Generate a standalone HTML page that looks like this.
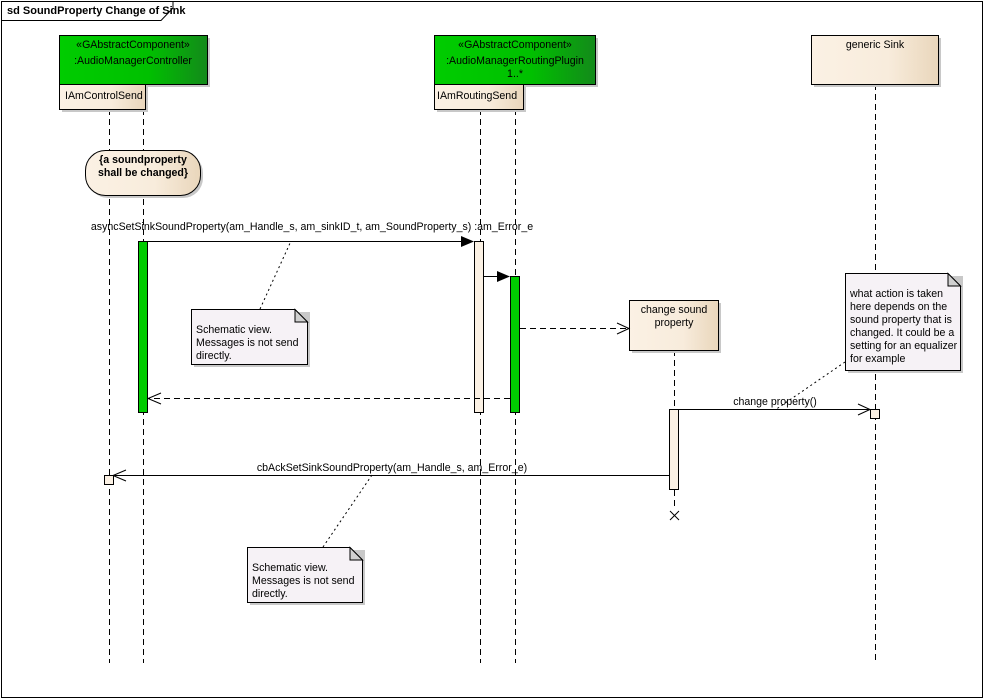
<!DOCTYPE html>
<html><head><meta charset="utf-8"><style>
html,body{margin:0;padding:0;background:#fff;}
svg{display:block;font-family:"Liberation Sans",sans-serif;}
text{font-size:10.6px;fill:#000;}
</style></head><body>
<svg width="985" height="699" viewBox="0 0 985 699" xmlns="http://www.w3.org/2000/svg">
<defs>
<linearGradient id="g" x1="0" x2="1"><stop offset="0" stop-color="#00cc00"/><stop offset="0.6" stop-color="#00c000"/><stop offset="1" stop-color="#138a1a"/></linearGradient>
<linearGradient id="b" x1="0" x2="1"><stop offset="0" stop-color="#fbf1e4"/><stop offset="0.6" stop-color="#f8ecdc"/><stop offset="1" stop-color="#e9d6bb"/></linearGradient>
</defs>
<rect x="1.5" y="1.5" width="981" height="696" fill="#fff" stroke="#000"/>
<path d="M1.5 20.5 H161 L173 8 V1.5" fill="none" stroke="#000"/>
<text x="7" y="14" font-weight="bold" style="font-size:11px">sd SoundProperty Change of Sink</text>

<g stroke="#000" stroke-dasharray="6,4" fill="none">
<line x1="109.5" y1="109" x2="109.5" y2="663"/>
<line x1="143.5" y1="109" x2="143.5" y2="663"/>
<line x1="480.5" y1="109" x2="480.5" y2="663"/>
<line x1="515.5" y1="109" x2="515.5" y2="663"/>
<line x1="875.5" y1="84" x2="875.5" y2="663"/>
<line x1="674.5" y1="350" x2="674.5" y2="510"/>
</g>

<g fill="#c8c8c8">
<rect x="62" y="38" width="148" height="49"/><rect x="62" y="87" width="86" height="25"/>
<rect x="437" y="38" width="161" height="49"/><rect x="437" y="87" width="89" height="25"/>
<rect x="814" y="38" width="127" height="49"/>
<rect x="632" y="303" width="89" height="50"/>
<rect x="88" y="153" width="115" height="45" rx="20"/>
<rect x="194" y="312" width="116" height="55"/><rect x="250" y="550" width="115" height="55"/><rect x="848" y="276" width="115" height="97"/>
</g>
<g stroke="#000">
<rect x="59.5" y="35.5" width="148" height="49" fill="url(#g)"/>
<rect x="59.5" y="84.5" width="86" height="25" fill="url(#b)"/>
<rect x="434.5" y="35.5" width="161" height="49" fill="url(#g)"/>
<rect x="434.5" y="84.5" width="89" height="25" fill="url(#b)"/>
<rect x="811.5" y="35.5" width="127" height="49" fill="url(#b)"/>
<rect x="629.5" y="300.5" width="89" height="50" fill="url(#b)"/>
<rect x="85.5" y="150.5" width="115" height="45" rx="20" fill="url(#b)"/>
</g>
<g text-anchor="middle">
<text x="133" y="48">«GAbstractComponent»</text>
<text x="133" y="64">:AudioManagerController</text>
<text x="515" y="48">«GAbstractComponent»</text>
<text x="515" y="64">:AudioManagerRoutingPlugin</text>
<text x="515" y="77">1..*</text>
<text x="875" y="48">generic Sink</text>
<text x="674" y="313">change sound</text>
<text x="674" y="326">property</text>
<text x="143" y="163" font-weight="bold">{a soundproperty</text>
<text x="143" y="176" font-weight="bold">shall be changed}</text>
</g>
<text x="65" y="99">IAmControlSend</text>
<text x="437" y="99">IAmRoutingSend</text>

<g stroke="#000">
<rect x="138.5" y="241.5" width="9" height="171" fill="#00cc00"/>
<rect x="474.5" y="241.5" width="9" height="171" fill="#fbf1e4"/>
<rect x="510.5" y="276.5" width="9" height="136" fill="#00cc00"/>
<rect x="669.5" y="409.5" width="9" height="80" fill="#fbf1e4"/>
<rect x="870.5" y="409.5" width="9" height="9" fill="#fbf1e4"/>
<rect x="104.5" y="475.5" width="9" height="9" fill="#fbf1e4"/>
</g>
<path d="M670 511 L679 520 M679 511 L670 520" stroke="#000"/>

<g stroke="#000" fill="none">
<line x1="148" y1="241.5" x2="464" y2="241.5"/>
<line x1="484" y1="276.5" x2="500" y2="276.5"/>
<line x1="520" y1="328.5" x2="629" y2="328.5" stroke-dasharray="6,4"/>
<path d="M617 323 L629 328.5 L617 334"/>
<line x1="510" y1="398.5" x2="148" y2="398.5" stroke-dasharray="6,4"/>
<path d="M161 393 L148 398.5 L161 404"/>
<line x1="679" y1="409.5" x2="870" y2="409.5"/>
<path d="M858 404 L870 409.5 L858 415"/>
<line x1="669" y1="475.5" x2="113" y2="475.5"/>
<path d="M126 470 L113 475.5 L126 481"/>
</g>
<path d="M461 236 L474 241.5 L461 247 Z" fill="#000"/>
<path d="M497 271 L510 276.5 L497 282 Z" fill="#000"/>
<text x="312" y="230" text-anchor="middle">asyncSetSinkSoundProperty(am_Handle_s, am_sinkID_t, am_SoundProperty_s) :am_Error_e</text>
<text x="775" y="405" text-anchor="middle">change property()</text>
<text x="392" y="471" text-anchor="middle">cbAckSetSinkSoundProperty(am_Handle_s, am_Error_e)</text>

<g stroke="#000" stroke-dasharray="2,3" fill="none">
<line x1="260" y1="309" x2="291" y2="241"/>
<line x1="323" y1="547" x2="372" y2="475"/>
<line x1="845" y1="362" x2="775" y2="410"/>
</g>
<g stroke="#000" fill="#f6f2f6">
<path d="M191.5 309.5 H295 L307.5 322 V364.5 H191.5 Z"/>
<path d="M247.5 547.5 H350 L362.5 560 V602.5 H247.5 Z"/>
<path d="M845.5 273.5 H948 L960.5 286 V370.5 H845.5 Z"/>
</g>
<g fill="#d0d0d0" stroke="#000">
<path d="M295 309.5 V322 H307.5 Z"/><path d="M350 547.5 V560 H362.5 Z"/><path d="M948 273.5 V286 H960.5 Z"/>
</g>
<text x="196" y="333">Schematic view.</text>
<text x="196" y="346">Messages is not send</text>
<text x="196" y="359">directly.</text>
<text x="252" y="571">Schematic view.</text>
<text x="252" y="584">Messages is not send</text>
<text x="252" y="597">directly.</text>
<text x="850" y="297">what action is taken</text>
<text x="850" y="310">here depends on the</text>
<text x="850" y="323">sound property that is</text>
<text x="850" y="336">changed. It could be a</text>
<text x="850" y="349">setting for an equalizer</text>
<text x="850" y="362">for example</text>
</svg>
</body></html>
